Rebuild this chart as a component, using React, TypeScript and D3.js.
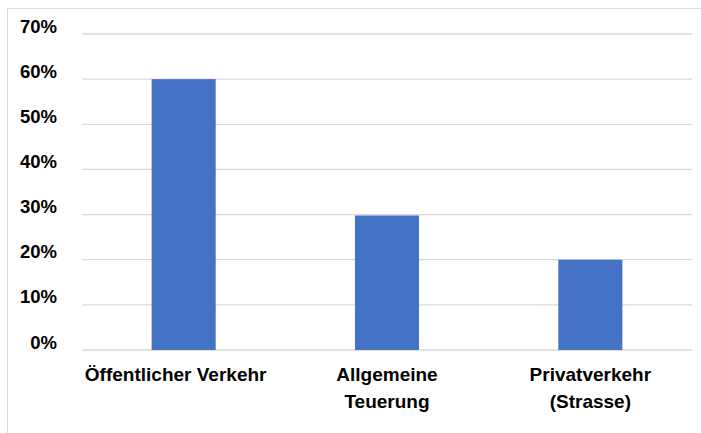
import React from "react";
import * as d3 from "d3";

const categories: string[][] = [["Öffentlicher Verkehr"], ["Allgemeine", "Teuerung"], ["Privatverkehr", "(Strasse)"]];
const values: number[] = [0.6, 0.298, 0.2];
const yTicks: number[] = [0, 0.1, 0.2, 0.3, 0.4, 0.5, 0.6, 0.7];

const W = 701;
const H = 433;
const plotLeft = 82;
const plotRight = 692;
const plotTop = 34;
const plotBottom = 350;

export default function App() {
  const x = d3
    .scaleBand<number>()
    .domain(values.map((_, i) => i))
    .range([plotLeft, plotRight])
    .paddingInner(0.685)
    .paddingOuter(0.3425);
  const y = d3.scaleLinear().domain([0, 0.7]).range([plotBottom, plotTop]);
  const fmt = d3.format(".0%");
  const font = "'Liberation Sans', Arial, sans-serif";
  return (
    <svg
      width={W}
      height={H}
      style={{ position: "absolute", left: 0, top: 0, display: "block", background: "#fff" }}
    >
      <rect x={7.5} y={8.5} width={760} height={480} fill="#fff" stroke="#d9d9d9" strokeWidth={1} />
      {yTicks.map((t) => (
        <g key={t}>
          <line x1={plotLeft} x2={plotRight} y1={y(t)} y2={y(t)} stroke="#d9d9d9" strokeWidth={1.3} />
          <text
            x={57}
            y={y(t) - 1.5}
            textAnchor="end"
            fontFamily={font}
            fontWeight="bold"
            fontSize={18.5}
            fill="#000"
          >
            {fmt(t)}
          </text>
        </g>
      ))}
      {values.map((v, i) => (
        <rect
          key={i}
          x={x(i)}
          y={y(v)}
          width={x.bandwidth()}
          height={y(0) - y(v)}
          fill="#4472C4"
        />
      ))}
      {categories.map((lines, i) => (
        <text
          key={i}
          textAnchor="middle"
          fontFamily={font}
          fontWeight="bold"
          fontSize={19}
          fill="#000"
        >
          {lines.map((l, j) => (
            <tspan key={j} x={(x(i) as number) + x.bandwidth() / 2 - (lines.length === 1 ? 8 : 0)} y={381 + j * 27}>
              {l}
            </tspan>
          ))}
        </text>
      ))}
    </svg>
  );
}
